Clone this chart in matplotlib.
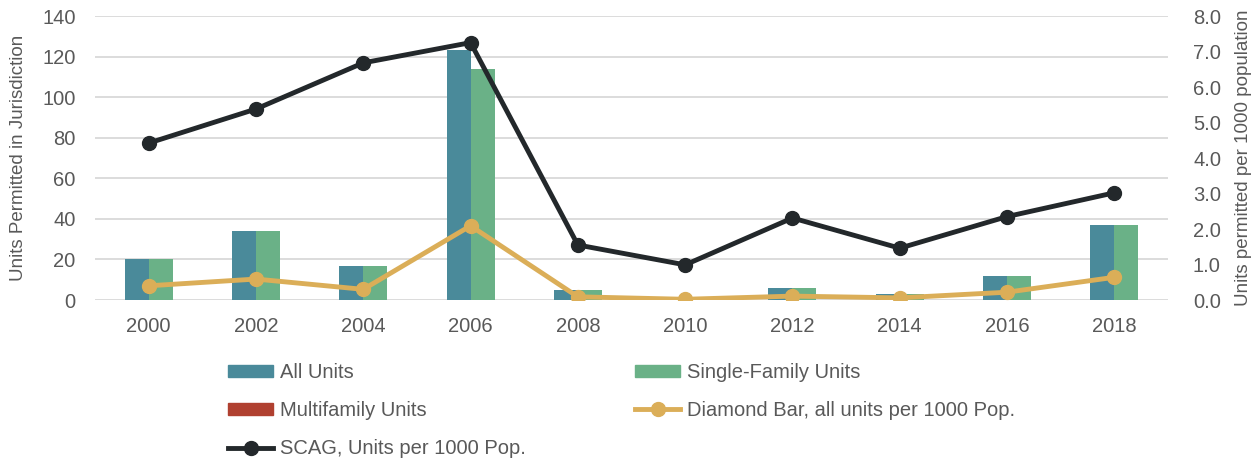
import matplotlib
matplotlib.use("Agg")
import matplotlib.pyplot as plt
from matplotlib.patches import Patch
from matplotlib.lines import Line2D
import numpy as np

years = ["2000", "2002", "2004", "2006", "2008", "2010", "2012", "2014", "2016", "2018"]
all_units = [20, 34, 17, 123, 5, 0, 6, 3, 12, 37]
single_family = [20, 34, 17, 114, 5, 0, 6, 3, 12, 37]
multifamily = [0, 0, 0, 0, 0, 0, 0, 0, 0, 0]
diamond_bar = [0.40, 0.59, 0.30, 2.09, 0.09, 0.02, 0.11, 0.06, 0.22, 0.64]
scag = [4.42, 5.38, 6.68, 7.25, 1.55, 0.99, 2.31, 1.46, 2.35, 3.02]

plt.rcParams['font.family'] = ['Liberation Sans', 'DejaVu Sans']

c_all = "#4a8a9a"
c_sf = "#6ab187"
c_mf = "#b04030"
c_db = "#dbae58"
c_scag = "#23282b"
c_text = "#595959"

fig = plt.figure(figsize=(12.6, 4.65), dpi=100)
ax = fig.add_axes([95/1260, 1-300/465, (1168-95)/1260, (300-16)/465])
ax2 = ax.twinx()

x = np.arange(len(years))
w = 0.224
ax.bar(x - w/2, all_units, w, color=c_all, zorder=2)
ax.bar(x + w/2, single_family, w, color=c_sf, zorder=2)

ax.set_xlim(-0.5, len(years) - 0.5)
ax.set_ylim(0, 140)
ax.set_yticks(np.arange(0, 141, 20))
ax.grid(axis='y', color="#d9d9d9", linewidth=1.3, zorder=0)
ax.set_axisbelow(True)
ax.set_xticks(x)
ax.set_xticklabels(years)

ax2.plot(x, diamond_bar, color=c_db, lw=3.5, marker='o', ms=10, zorder=3)
ax2.plot(x, scag, color=c_scag, lw=3.5, marker='o', ms=10, zorder=4)
ax2.set_ylim(0, 8)
ax2.set_yticks(np.arange(0, 8.1, 1))
ax2.set_yticklabels([f"{v:.1f}" for v in np.arange(0, 8.1, 1)])

for a in (ax, ax2):
    for s in a.spines.values():
        s.set_visible(False)
    a.tick_params(length=0, labelsize=14.5, colors=c_text)
ax.tick_params(axis='x', pad=12)
ax.tick_params(axis='y', pad=14)
ax2.tick_params(axis='y', pad=18)

ax.set_ylabel("Units Permitted in Jurisdiction", fontsize=13.5, color=c_text, labelpad=11)
ax2.set_ylabel("Units permitted per 1000 population", fontsize=13.5, color=c_text, labelpad=10)

handles = [
    Patch(color=c_all, label="All Units"),
    Patch(color=c_mf, label="Multifamily Units"),
    Line2D([], [], color=c_scag, lw=3.5, marker='o', ms=10, label="SCAG, Units per 1000 Pop."),
    Patch(color=c_sf, label="Single-Family Units"),
    Line2D([], [], color=c_db, lw=3.5, marker='o', ms=10, label="Diamond Bar, all units per 1000 Pop."),
]
leg = fig.legend(handles=handles, ncol=2, loc='upper left', bbox_to_anchor=(228/1260, 1-363/465),
                 frameon=False, prop={'size': 14.5}, labelcolor=c_text,
                 handlelength=2.25, handleheight=0.6, handletextpad=0.35, labelspacing=0.95,
                 columnspacing=5.4, borderpad=0, borderaxespad=0)

fig.savefig("out.png", dpi=100)
